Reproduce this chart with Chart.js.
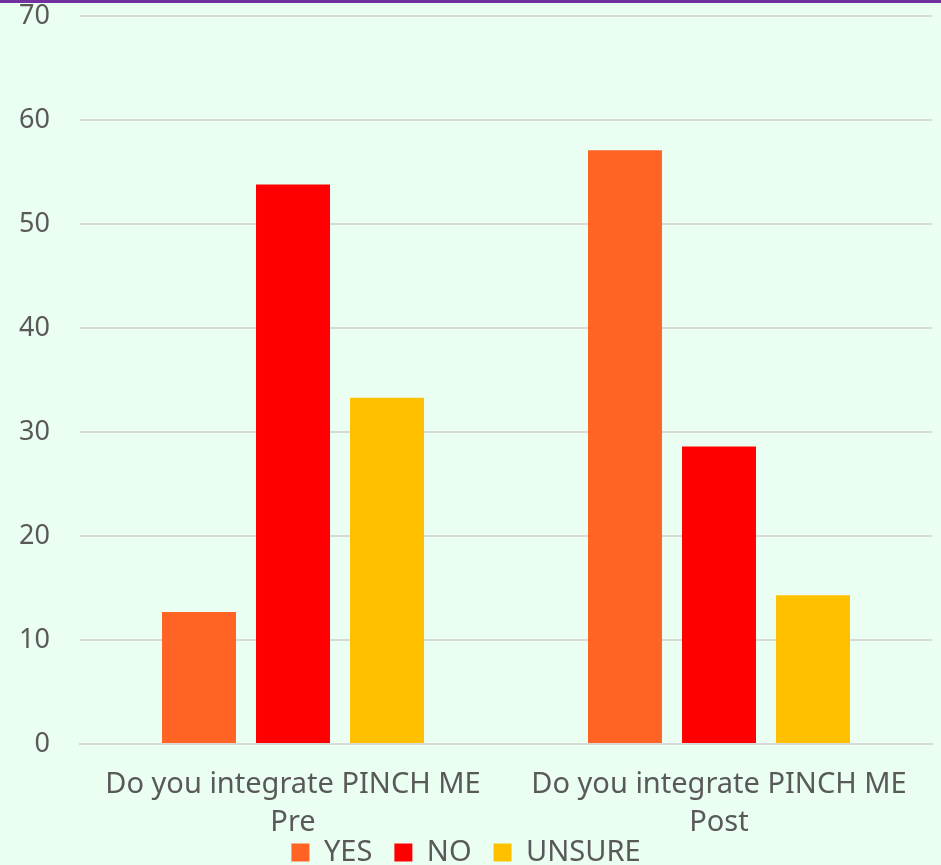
<!DOCTYPE html>
<html>
  <head>
    <title>PINCH ME Survey</title>
    <script src="https://cdn.jsdelivr.net/npm/chart.js"></script>
    <style>
      html, body { margin: 0; padding: 0; background: #eafef2; overflow: hidden; }
      #topBar { position: absolute; left: 0; top: 0; width: 941px; height: 3px; background: #7030a0; z-index: 2; }
      #wrap { width: 941px; height: 865px; position: relative; }
    </style>
  </head>
  <body>
    <div id="wrap"><canvas id="myChart"></canvas></div>
    <div id="topBar"></div>

    <script>
      // data
      const categories = [
        ["Do you integrate PINCH ME", "Pre"],
        ["Do you integrate PINCH ME", "Post"]
      ];
      const yesValues = [12.7, 57.1];
      const noValues = [53.8, 28.6];
      const unsureValues = [33.3, 14.3];
      const yTicks = [0, 10, 20, 30, 40, 50, 60, 70];

      const textColor = "#595959";
      const fontFamily = "'Noto Sans', 'Open Sans', sans-serif";

      const ctx = document.getElementById("myChart").getContext("2d");

      const myChart = new Chart(ctx, {
        type: "bar",
        data: {
          labels: categories,
          datasets: [
            { label: "YES", data: yesValues, backgroundColor: "#ff6425" },
            { label: "NO", data: noValues, backgroundColor: "#ff0000" },
            { label: "UNSURE", data: unsureValues, backgroundColor: "#ffc000" }
          ]
        },
        options: {
          responsive: true,
          maintainAspectRatio: false,
          animation: false,
          datasets: {
            bar: { categoryPercentage: 0.662, barPercentage: 0.787 }
          },
          layout: { padding: { top: 0, right: 9, bottom: -12, left: 0 } },
          scales: {
            x: {
              afterFit: (scale) => {
                scale.height = 72;
                // the legend sits close under the labels, so don't clip them
                scale._computeLabelArea = () => undefined;
              },
              grid: { display: false },
              border: { color: "#d9d9d9", width: 2 },
              ticks: {
                color: textColor,
                font: { family: fontFamily, size: 29, lineHeight: 1.31 },
                padding: 14,
                maxRotation: 0
              }
            },
            y: {
              min: 0,
              max: 70,
              afterFit: (scale) => {
                scale.width = 80;
                // keep the 70 line up under the top bar
                scale.paddingTop = 16;
              },
              afterBuildTicks: (scale) => {
                scale.ticks = yTicks.map((v) => ({ value: v }));
              },
              grid: { color: "#d9d9d9", lineWidth: 2, drawTicks: false },
              border: { display: false },
              ticks: {
                color: textColor,
                font: { family: fontFamily, size: 27 },
                padding: 30
              }
            }
          },
          plugins: {
            legend: {
              position: "bottom",
              labels: {
                color: textColor,
                font: { family: fontFamily, size: 29, lineHeight: 0.62 },
                boxWidth: 18,
                boxHeight: 18,
                padding: 22
              }
            },
            tooltip: { enabled: false }
          }
        }
      });
    </script>
  </body>
</html>
